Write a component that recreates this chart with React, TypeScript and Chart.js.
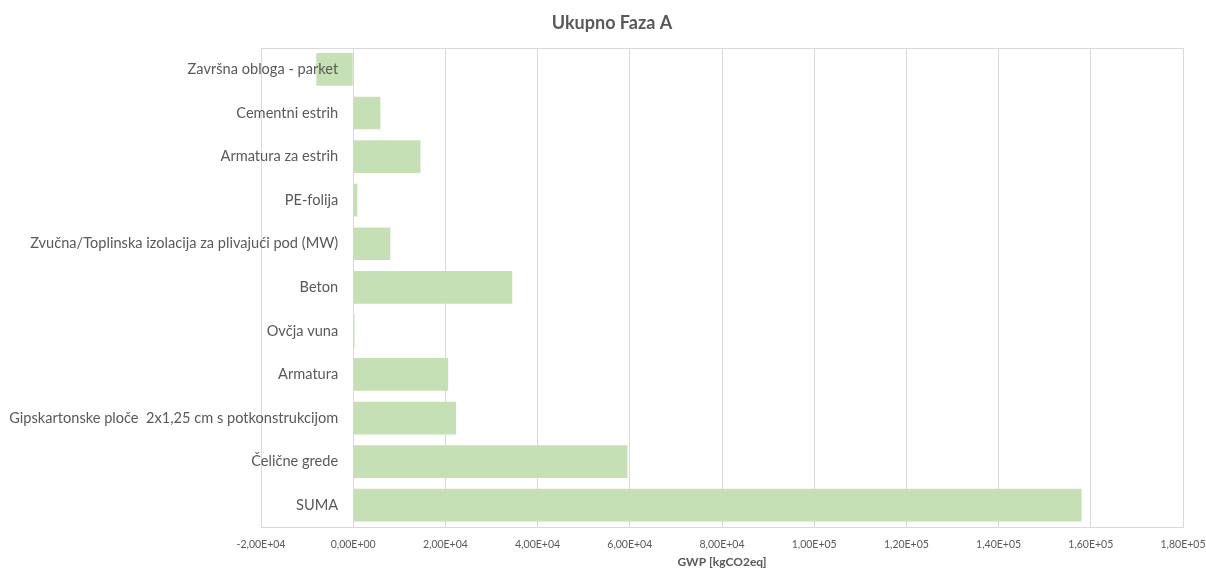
import React, { useEffect, useRef } from "react";
import { Chart, registerables } from "chart.js";

Chart.register(...registerables);

const categories = [
  "Završna obloga - parket",
  "Cementni estrih",
  "Armatura za estrih",
  "PE-folija",
  "Zvučna/Toplinska izolacija za plivajući pod (MW)",
  "Beton",
  "Ovčja vuna",
  "Armatura",
  "Gipskartonske ploče  2x1,25 cm s potkonstrukcijom",
  "Čelične grede",
  "SUMA",
];

const gwpValues = [
  -8000, 5900, 14600, 900, 8050, 34500, 300, 20600, 22300, 59500, 158000,
];

const xTickValues = [
  -20000, 0, 20000, 40000, 60000, 80000, 100000, 120000, 140000, 160000, 180000,
];
const xTickLabels = [
  "-2,00E+04",
  "0,00E+00",
  "2,00E+04",
  "4,00E+04",
  "6,00E+04",
  "8,00E+04",
  "1,00E+05",
  "1,20E+05",
  "1,40E+05",
  "1,60E+05",
  "1,80E+05",
];

const FONT = "Lato, 'Open Sans', sans-serif";
const GRAY = "#595959";
const GRID = "#d9d9d9";

const borderPlugin = {
  id: "areaBorder",
  beforeDatasetsDraw(chart: any) {
    const { ctx, chartArea } = chart;
    ctx.save();
    ctx.strokeStyle = GRID;
    ctx.lineWidth = 1;
    ctx.strokeRect(
      Math.round(chartArea.left) + 0.5,
      Math.round(chartArea.top) + 0.5,
      Math.round(chartArea.right - chartArea.left),
      Math.round(chartArea.bottom - chartArea.top)
    );
    ctx.restore();
  },
};

// Category labels sit next to the zero line (like Excel), drawn over the bars
const zeroAxisLabels = {
  id: "zeroAxisLabels",
  afterDatasetsDraw(chart: any) {
    const { ctx } = chart;
    const xs = chart.scales.x;
    const ys = chart.scales.y;
    const x0 = xs.getPixelForValue(0) - 15;
    ctx.save();
    ctx.fillStyle = GRAY;
    ctx.font = `14.6px ${FONT}`;
    ctx.textAlign = "right";
    ctx.textBaseline = "middle";
    categories.forEach((label, i) => {
      ctx.fillText(label, x0, ys.getPixelForValue(i));
    });
    ctx.restore();
  },
};

export default function App() {
  const ref = useRef<HTMLCanvasElement | null>(null);

  useEffect(() => {
    if (!ref.current) return;
    const chart = new Chart(ref.current, {
      type: "bar",
      data: {
        labels: categories,
        datasets: [
          {
            label: "GWP",
            data: gwpValues,
            backgroundColor: "#c5e0b4",
            borderWidth: 0,
            barPercentage: 0.75,
            categoryPercentage: 1,
          },
        ],
      },
      plugins: [borderPlugin, zeroAxisLabels],
      options: {
        indexAxis: "y",
        animation: false,
        responsive: true,
        maintainAspectRatio: false,
        layout: { padding: { left: 18, right: 0, top: 0, bottom: 0 } },
        plugins: {
          legend: { display: false },
          tooltip: { enabled: false },
          title: {
            display: true,
            text: "Ukupno Faza A",
            color: GRAY,
            font: { family: FONT, size: 18, weight: "bold" },
            padding: { top: 12, bottom: 14 },
          },
        },
        scales: {
          x: {
            type: "linear",
            min: xTickValues[0],
            max: xTickValues[xTickValues.length - 1],
            afterBuildTicks: (scale: any) => {
              scale.ticks = xTickValues.map((v) => ({ value: v }));
            },
            afterFit: (scale: any) => {
              scale.height = 42;
              scale.paddingRight = 23;
            },
            ticks: {
              color: GRAY,
              font: { family: FONT, size: 10.5 },
              padding: 11,
              maxRotation: 0,
              autoSkip: false,
              callback: (v: any) => {
                const i = xTickValues.indexOf(Number(v));
                return i >= 0 ? xTickLabels[i] : "";
              },
            },
            grid: { color: GRID, drawTicks: false, lineWidth: 1 },
            border: { display: false },
            title: {
              display: true,
              text: "GWP [kgCO2eq]",
              color: GRAY,
              font: { family: FONT, size: 12, weight: "bold" },
              padding: { top: 2, bottom: 0 },
            },
          },
          y: {
            type: "category",
            afterFit: (scale: any) => {
              scale.width = 243;
            },
            ticks: { display: false },
            grid: { display: false, drawTicks: false },
            border: { display: false },
          },
        },
      },
    });
    return () => chart.destroy();
  }, []);

  return (
    <div
      style={{
        position: "fixed",
        left: 0,
        top: 0,
        width: 1206,
        height: 569,
        background: "#fff",
      }}
    >
      <canvas ref={ref} />
    </div>
  );
}
